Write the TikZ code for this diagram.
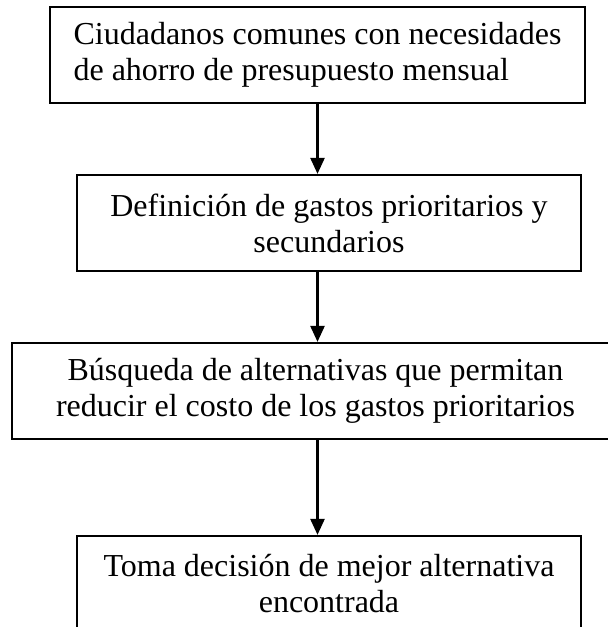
\documentclass[tikz,border=0pt]{standalone}
\usepackage{fontspec}
\setmainfont{Liberation Serif}
\usetikzlibrary{arrows.meta}
\begin{document}
\begin{tikzpicture}[x=1pt,y=-1pt,
  box/.style={draw, line width=2.2pt, minimum height=96pt, inner sep=0pt,
    font=\fontsize{32}{36}\selectfont},
  conn/.style={line width=2.4pt, -{Triangle[length=16pt,width=14pt]}}]
\useasboundingbox (0,0) rectangle (608,627);
\clip (0,0) rectangle (608,627);
\node[box, minimum width=535pt, align=left] (b1) at (317.5,55)
  {Ciudadanos comunes con necesidades\\de ahorro de presupuesto mensual};
\node[box, minimum width=504pt, align=center] (b2) at (329,223)
  {Definición de gastos prioritarios y\\secundarios};
\node[box, minimum width=607pt, align=center] (b3) at (315.5,391)
  {Búsqueda de alternativas que permitan\\reducir el costo de los gastos prioritarios};
\node[box, minimum width=504pt, align=center] (b4) at (329,584)
  {Toma decisión de mejor alternativa\\encontrada};
\draw[conn] (b1.south) -- (b1.south |- b2.north);
\draw[conn] (b2.south -| b1.south) -- (b3.north -| b1.south);
\draw[conn] (b3.south -| b1.south) -- (b4.north -| b1.south);
\end{tikzpicture}
\end{document}
